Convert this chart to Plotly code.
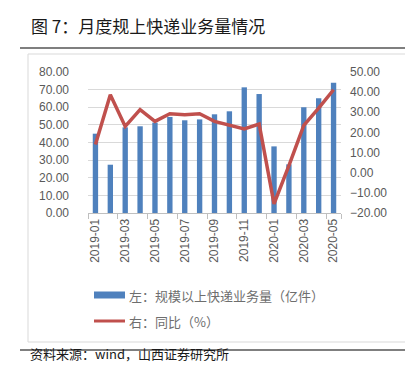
import plotly.graph_objects as go

months = ["2019-01", "2019-02", "2019-03", "2019-04", "2019-05", "2019-06",
          "2019-07", "2019-08", "2019-09", "2019-10", "2019-11", "2019-12",
          "2020-01", "2020-02", "2020-03", "2020-04", "2020-05"]
volume = [45.0, 27.4, 48.6, 49.2, 51.3, 54.5, 52.6, 53.1, 56.0, 57.7,
          71.3, 67.5, 37.8, 27.6, 60.0, 65.1, 73.9]
yoy = [14.0, 38.7, 23.0, 31.3, 25.5, 29.3, 28.8, 29.3, 25.5, 23.5,
       21.7, 24.2, -15.5, 3.5, 23.5, 32.1, 41.2]
shown_ticks = months[::2]
series_names = ["左：规模以上快递业务量（亿件）", "右：同比（%）"]

left_ticks = [0, 10, 20, 30, 40, 50, 60, 70, 80]
right_ticks = [-20, -10, 0, 10, 20, 30, 40, 50]

FONT = "Liberation Sans, Arial, Noto Sans CJK SC, sans-serif"
CJK = "Noto Sans CJK SC, sans-serif"
GRAY = "#595959"
BLUE = "#4F81BD"
RED = "#C0504D"

L, R, T, B = 80, 80, 64, 160
W, H = 413, 365
PW, PH = W - L - R, H - T - B


def px(x):
    return (x - L) / PW


def py(y):
    return (H - B - y) / PH


fig = go.Figure()
fig.add_trace(go.Bar(x=months, y=volume, name=series_names[0],
                     marker=dict(color=BLUE, line=dict(width=0)),
                     width=0.36, yaxis="y", showlegend=False))
fig.add_trace(go.Scatter(x=months, y=yoy, name=series_names[1], mode="lines",
                         line=dict(color=RED, width=3.5), yaxis="y2",
                         showlegend=False))

fig.update_layout(
    width=W, height=H,
    margin=dict(l=L, r=R, t=T, b=B, pad=0),
    paper_bgcolor="white", plot_bgcolor="white",
    font=dict(family=FONT, size=12, color=GRAY),
    xaxis=dict(type="category", tickvals=shown_ticks, tickangle=-90,
               tickson="boundaries", ticks="outside", ticklen=5,
               tickcolor="#BFBFBF", showline=True, linecolor="#BFBFBF",
               linewidth=1, showgrid=False, tickfont=dict(size=12, color=GRAY),
               range=[-0.5, 16.5]),
    yaxis=dict(range=[0, 80], tickvals=left_ticks, tickformat=".2f",
               showgrid=True, gridcolor="#D9D9D9", gridwidth=1,
               zeroline=False, showline=False, ticks="",
               ticklabelstandoff=18, tickfont=dict(size=12, color=GRAY)),
    yaxis2=dict(range=[-20, 50], tickvals=right_ticks, tickformat=".2f",
                overlaying="y", side="right", showgrid=False, zeroline=False,
                showline=False, ticks="", ticklabelstandoff=8,
                tickfont=dict(size=12, color=GRAY)),
    showlegend=False,
)

shapes = [
    dict(type="line", xref="paper", yref="paper", x0=px(12), x1=px(408),
         y0=py(40), y1=py(40), line=dict(color="#555555", width=1.5)),
    dict(type="line", xref="paper", yref="paper", x0=px(12), x1=px(408),
         y0=py(342), y1=py(342), line=dict(color="#555555", width=1.5)),
    dict(type="rect", xref="paper", yref="paper", x0=px(20), x1=px(399),
         y0=py(334), y1=py(46), line=dict(color="#D9D9D9", width=1),
         layer="below"),
    # legend swatches
    dict(type="rect", xref="paper", yref="paper", x0=px(86), x1=px(117),
         y0=py(290.5), y1=py(283.5), fillcolor=BLUE, line=dict(width=0)),
    dict(type="line", xref="paper", yref="paper", x0=px(86), x1=px(117),
         y0=py(313), y1=py(313), line=dict(color=RED, width=3)),
]
fig.update_layout(shapes=shapes)

for name, yy in zip(series_names, [287, 313]):
    fig.add_annotation(text=name, xref="paper", yref="paper",
                       x=px(119), y=py(yy), xanchor="left", yanchor="middle",
                       showarrow=False,
                       font=dict(family=CJK, size=13, color="#6e6e6e"))

fig.add_annotation(text="图 7：月度规上快递业务量情况", xref="paper", yref="paper",
                   x=px(21), y=py(18), xanchor="left", yanchor="middle",
                   showarrow=False,
                   font=dict(family=CJK, size=17, color="#1a1a1a"))
fig.add_annotation(text="资料来源：wind，山西证券研究所", xref="paper", yref="paper",
                   x=px(21), y=py(345), xanchor="left", yanchor="middle",
                   showarrow=False, borderpad=0,
                   font=dict(family=CJK, size=13, color="#1a1a1a"))

fig.write_html("out.html")
